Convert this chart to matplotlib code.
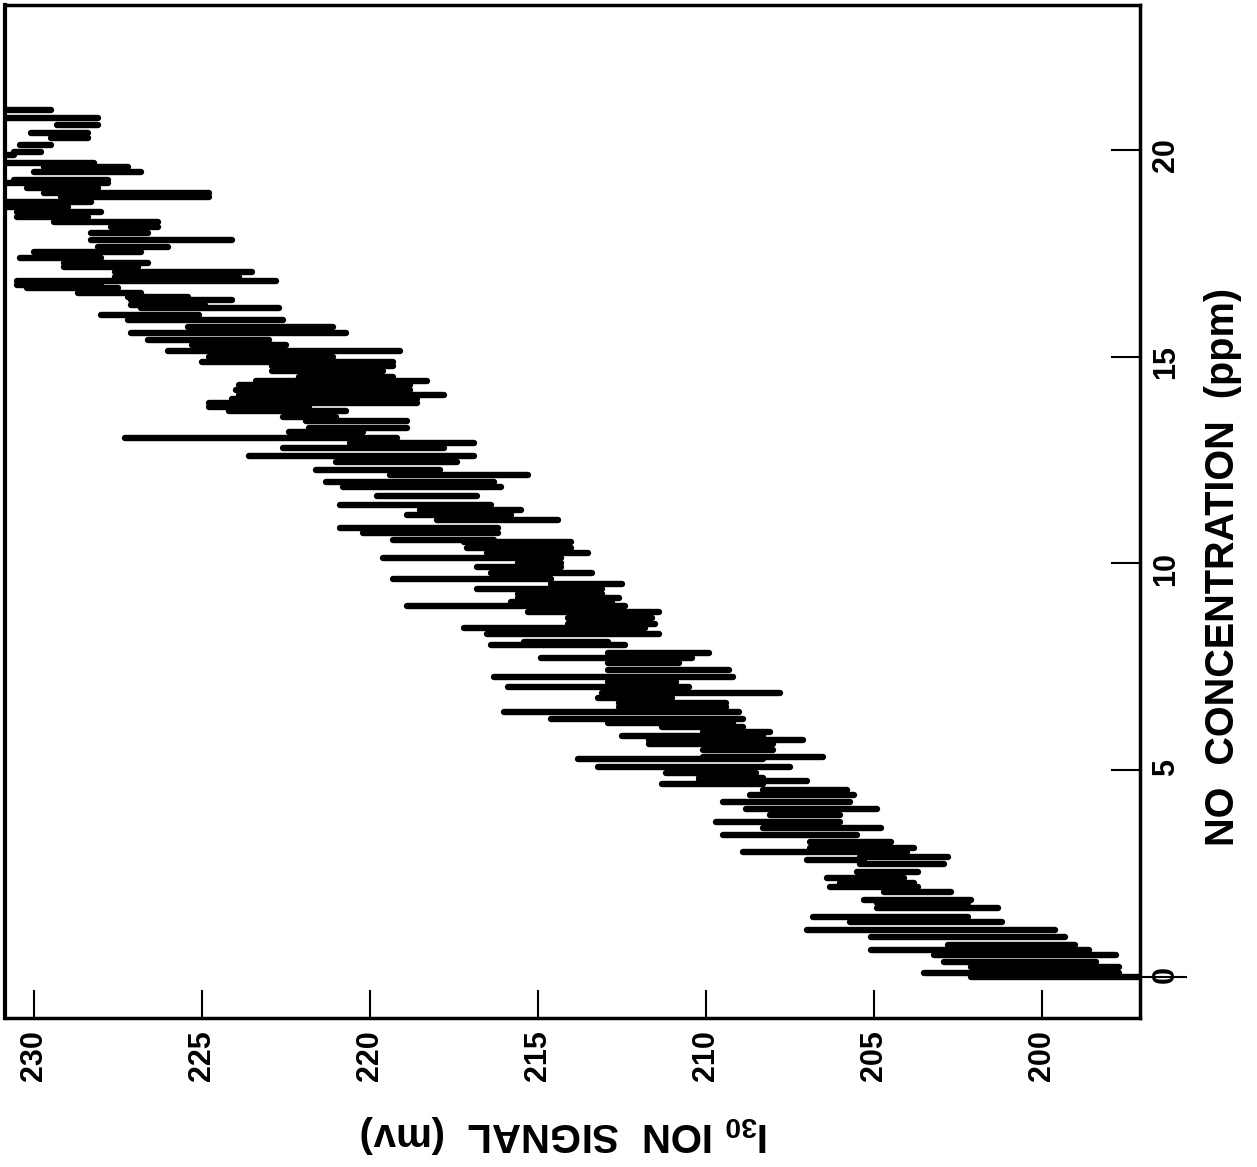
import matplotlib
matplotlib.use('Agg')
import matplotlib.pyplot as plt
from matplotlib.ticker import FixedLocator

plt.rcParams['font.family'] = ['Liberation Sans', 'DejaVu Sans']
plt.rcParams['font.weight'] = 'bold'
plt.rcParams['mathtext.fontset'] = 'custom'
plt.rcParams['mathtext.bf'] = 'Liberation Sans:bold'
plt.rcParams['mathtext.rm'] = 'Liberation Sans:bold'
plt.rcParams['mathtext.default'] = 'bf'

# recorder trace: one row per pen excursion
# NO concentration (ppm) and the two ends of the excursion in I30 signal (mV)
conc = [20.97, 20.77, 20.60, 20.41, 20.29, 20.12, 19.95, 19.88, 19.69, 19.59, 19.47, 19.27,
        19.20, 19.08, 18.96, 18.86, 18.74, 18.62, 18.50, 18.38, 18.26, 18.14, 17.99, 17.82,
        17.65, 17.53, 17.39, 17.27, 17.17, 17.05, 16.93, 16.83, 16.74, 16.66, 16.54, 16.44,
        16.37, 16.25, 16.18, 16.01, 15.89, 15.72, 15.57, 15.40, 15.28, 15.14, 14.99, 14.87,
        14.78, 14.66, 14.51, 14.41, 14.32, 14.20, 14.07, 13.98, 13.88,
        13.78, 13.69, 13.54, 13.45, 13.28, 13.18, 13.04, 12.91, 12.79, 12.60, 12.45, 12.26,
        12.14, 11.97, 11.85, 11.63, 11.41, 11.29, 11.17, 11.05, 10.86, 10.74, 10.57, 10.52,
        10.37, 10.25, 10.13, 10.01,
        9.92, 9.77, 9.63, 9.50, 9.38, 9.26, 9.17, 9.07, 8.97, 8.83, 8.68, 8.54, 8.44, 8.30,
        8.10, 8.03, 7.84, 7.71, 7.59, 7.42, 7.26, 7.13, 7.01, 6.87, 6.75, 6.63, 6.53, 6.41,
        6.24, 6.14,
        6.05, 5.93, 5.83, 5.73, 5.63, 5.49, 5.32, 5.27, 5.08, 4.93, 4.81, 4.74, 4.67, 4.52,
        4.40, 4.23, 4.06, 3.92, 3.75, 3.60, 3.43, 3.26, 3.12, 3.02, 2.90, 2.83, 2.73, 2.54,
        2.39, 2.27,
        2.18, 2.06, 1.86, 1.79, 1.67, 1.45, 1.33, 1.14, 0.97, 0.77, 0.65, 0.53, 0.36, 0.24,
        0.10, 0.00]
sig_hi = [230.8, 230.8, 229.3, 230.1, 229.5, 230.4, 230.6, 230.8, 230.8, 229.7, 230.0, 230.6,
          230.8, 230.2, 229.7, 229.2, 230.8, 230.8, 230.5, 230.5, 229.4, 227.7, 228.3, 228.3,
          228.1, 230.0, 230.4, 229.1, 229.1, 227.6, 227.6, 230.5, 230.5, 230.2, 228.7, 227.2,
          227.1, 227.1, 226.8, 228.0, 227.2, 225.4, 227.1, 226.6, 225.3, 226.0, 224.8, 225.0,
          222.9, 222.9, 222.1, 223.4, 223.9, 224.0, 223.9, 224.1, 224.8,
          224.8, 224.2, 222.6, 221.9, 221.8, 222.4, 227.3, 220.6, 222.6, 223.6, 221.0, 221.6,
          219.4, 221.3, 220.8, 219.8, 220.9, 218.5, 218.9, 218.0, 220.9, 220.2, 219.3, 217.2,
          217.1, 216.5, 219.6, 215.6,
          216.8, 216.4, 219.3, 214.6, 216.8, 215.6, 215.6, 215.8, 218.9, 215.3, 214.1, 214.1,
          217.2, 216.5, 215.4, 216.4, 212.9, 214.9, 212.9, 212.9, 216.3, 212.9, 215.9, 213.1,
          213.2, 212.6, 212.6, 216.0, 214.6, 212.9,
          211.3, 210.1, 212.5, 211.7, 211.7, 210.1, 210.1, 213.8, 213.2, 211.2, 210.2, 210.2,
          211.3, 208.3, 208.7, 209.5, 208.8, 208.1, 209.7, 208.3, 209.5, 206.9, 206.9, 208.9,
          205.4, 207.0, 205.4, 205.5, 206.4, 206.0,
          206.3, 204.7, 205.3, 204.9, 204.9, 206.8, 205.7, 207.0, 205.1, 202.8, 205.1, 203.2,
          202.9, 202.1, 203.5, 202.1]
sig_lo = [229.5, 228.1, 228.1, 228.4, 228.4, 229.5, 229.8, 230.6, 228.2, 227.2, 226.8, 227.8,
          227.8, 228.1, 224.8, 224.8, 228.3, 229.0, 228.0, 228.4, 226.3, 226.3, 226.6, 224.1,
          226.0, 226.8, 228.0, 226.6, 226.9, 223.5, 223.9, 222.8, 228.0, 227.5, 226.8, 225.4,
          224.1, 224.9, 222.7, 225.1, 222.6, 221.1, 220.7, 223.0, 222.5, 219.1, 221.1, 219.3,
          219.3, 219.6, 219.3, 218.3, 218.8, 218.8, 217.8, 218.6, 218.6,
          221.8, 220.7, 221.0, 218.9, 218.9, 220.2, 219.2, 216.9, 217.8, 216.9, 217.4, 217.9,
          215.3, 216.3, 216.1, 216.8, 216.4, 215.5, 215.8, 214.4, 216.2, 216.2, 216.3, 214.0,
          214.0, 213.5, 214.3, 214.3,
          214.3, 213.4, 214.6, 212.5, 213.1, 213.1, 212.6, 212.8, 212.4, 211.4, 211.6, 211.5,
          211.8, 211.4, 212.9, 212.4, 209.9, 210.4, 210.8, 209.3, 209.2, 210.9, 210.5, 207.8,
          211.0, 209.4, 209.4, 209.0, 208.9, 209.2,
          208.9, 208.1, 208.3, 207.1, 208.0, 208.0, 206.5, 208.3, 207.5, 208.5, 208.3, 207.0,
          208.3, 205.8, 205.6, 205.7, 204.9, 206.0, 206.0, 204.8, 205.5, 204.5, 203.8, 204.0,
          202.8, 205.3, 202.9, 203.7, 204.1, 203.8,
          203.7, 202.7, 202.1, 202.2, 201.3, 202.2, 201.2, 199.6, 199.3, 199.0, 198.6, 197.8,
          198.4, 197.7, 197.7, 197.1]

signal_ticks = [200, 205, 210, 215, 220, 225, 230]
conc_ticks = [0, 5, 10, 15, 20]

fig = plt.figure(figsize=(12.57, 11.67), dpi=100)
ax = fig.add_axes([0.004, 0.1277, 0.9029, 0.868])

# the page is turned: signal runs right-to-left along the bottom, concentration up the right side
lines = ax.hlines(conc, sig_hi, sig_lo, colors='black', linewidth=4.6)
lines.set_capstyle('round')

ax.set_xlim(230.86, 197.08)
ax.set_ylim(-0.99, 23.5)

ax.set_xticks(signal_ticks)
ax.set_xticklabels([str(v) for v in signal_ticks])
ax.set_yticks(conc_ticks)
ax.set_yticklabels([str(v) for v in conc_ticks])
ax.yaxis.tick_right()
# the zero mark is drawn out through its label in the original
ax.yaxis.remove_overlapping_locs = False
ax.yaxis.set_minor_locator(FixedLocator([0]))
ax.tick_params(axis='x', direction='in', length=20, width=1.5, pad=9,
               labelsize=22, labelrotation=90)
ax.tick_params(axis='y', which='major', direction='in', length=21, width=1.5, pad=8,
               labelsize=22, labelrotation=90)
ax.tick_params(axis='y', which='minor', direction='out', length=34, width=1.5)

for s in ax.spines.values():
    s.set_linewidth(2.5)
ax.spines['left'].set_linewidth(3)

ax.set_xlabel(r'I$_{30}$ ION  SIGNAL  (mv)', rotation=180, fontsize=29,
              fontweight='bold')
ax.xaxis.set_label_coords(0.493, -0.094)
ax.yaxis.set_label_position('right')
ax.set_ylabel('NO  CONCENTRATION  (ppm)', fontsize=28.5, fontweight='bold')
ax.yaxis.set_label_coords(1.056, 0.445)

fig.savefig('out.png', dpi=100, facecolor='white')
